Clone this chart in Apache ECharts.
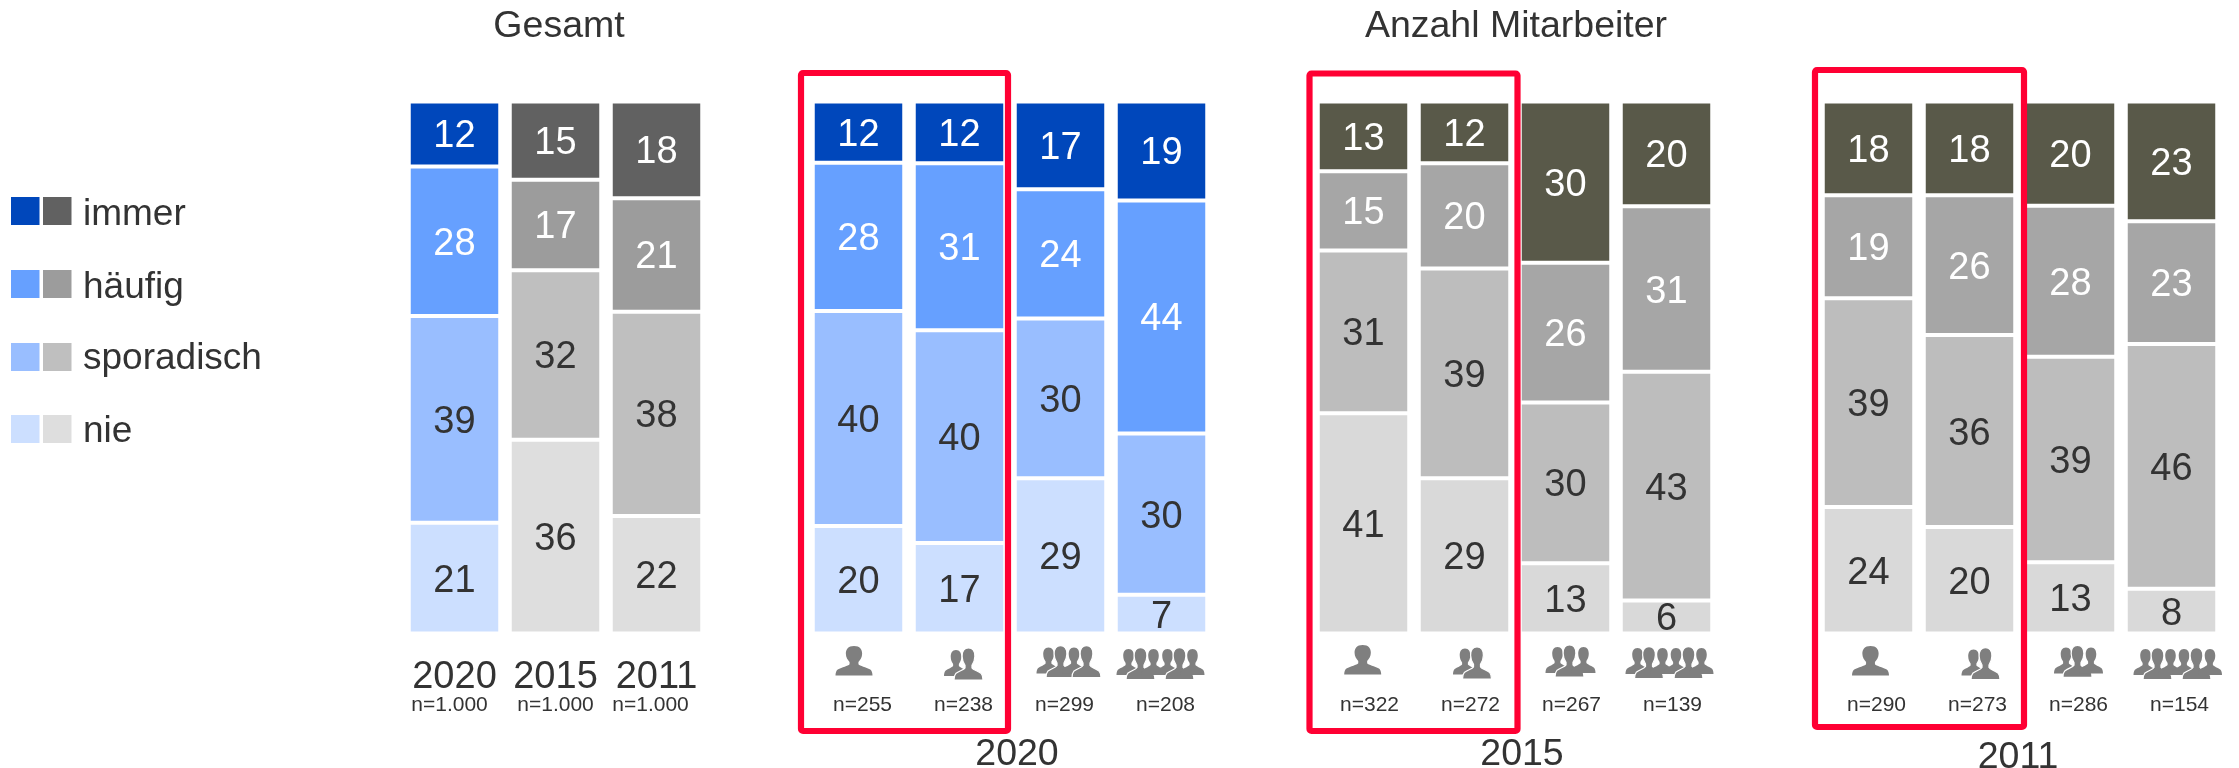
<!DOCTYPE html>
<html><head><meta charset="utf-8">
<style>html,body{margin:0;padding:0;background:#fff}#c{width:2239px;height:768px}</style>
<script src="https://cdn.jsdelivr.net/npm/echarts@6/dist/echarts.min.js"></script>
</head><body><div id="c"></div>
<script>
const seriesNames = ['immer','häufig','sporadisch','nie'];
const blueColors  = ['#0047BB','#66A0FF','#99BEFF','#CCDFFF'];
const grayColors  = ['#616161','#9C9C9C','#BFBFBF','#DEDEDE'];
const oliveColors = ['#595949','#A6A6A6','#BDBDBD','#D9D9D9'];

// Gesamt
const gesamtYears = ['2020','2015','2011'];
const gesamtN     = ['n=1.000','n=1.000','n=1.000'];
const gesamtImmer = [12.2,14.7,18.2];
const gesamtHaeufig = [28.1,17.0,21.3];
const gesamtSporadisch = [38.9,31.9,38.4];
const gesamtNie   = [20.8,36.4,22.1];

// 2020
const n2020 = ['n=255','n=238','n=299','n=208'];
const immer2020 = [11.5,11.6,16.5,18.6];
const haeufig2020 = [27.9,31.4,24.3,43.8];
const sporadisch2020 = [40.4,40.0,30.0,30.3];
const nie2020 = [20.2,17.0,29.2,7.3];

// 2015
const n2015 = ['n=322','n=272','n=267','n=139'];
const immer2015 = [13.1,11.6,30.3,19.7];
const haeufig2015 = [14.9,19.8,26.3,31.1];
const sporadisch2015 = [30.6,39.4,30.2,43.0];
const nie2015 = [41.4,29.2,13.2,6.2];

// 2011
const n2011 = ['n=290','n=273','n=286','n=154'];
const immer2011 = [17.6,17.6,19.6,22.5];
const haeufig2011 = [19.4,26.3,28.4,23.1];
const sporadisch2011 = [39.2,36.1,38.6,46.0];
const nie2011 = [23.8,20.0,13.4,8.4];

const FONT = '"Liberation Sans", Arial, sans-serif';
const TXT = '#333333';
const ICON = '#7F7F7F';
const RED = '#FF0033';

const groups = [
  {left:404,  cats:gesamtYears, colors:grayColors,  data:[gesamtImmer,gesamtHaeufig,gesamtSporadisch,gesamtNie]},
  {left:808,  cats:n2020, colors:blueColors,  data:[immer2020,haeufig2020,sporadisch2020,nie2020], nPad:8},
  {left:1313, cats:n2015, colors:oliveColors, data:[immer2015,haeufig2015,sporadisch2015,nie2015], nPad:12},
  {left:1818, cats:n2011, colors:oliveColors, data:[immer2011,haeufig2011,sporadisch2011,nie2011], nPad:16}
];

const grid=[],xAxis=[],yAxis=[],series=[];
groups.forEach((g,gi)=>{
  grid.push({left:g.left,top:101.5,width:101*g.cats.length,height:532});
  yAxis.push({gridIndex:gi,type:'value',min:0,max:100,show:false});
  const ax={gridIndex:gi,type:'category',data:g.cats,axisLine:{show:false},axisTick:{show:false},splitLine:{show:false}};
  if(gi===0){
    ax.axisLabel={interval:0,margin:29,fontFamily:FONT,color:TXT,
      formatter:(v,i)=>'{y|'+v+'}\n{n'+i+'|'+gesamtN[i]+'}',
      rich:{y:{fontSize:38,lineHeight:30,fontFamily:FONT,color:TXT},
            n0:{fontSize:21,lineHeight:26,fontFamily:FONT,color:TXT,padding:[0,10,0,0]},
            n1:{fontSize:21,lineHeight:26,fontFamily:FONT,color:TXT},
            n2:{fontSize:21,lineHeight:26,fontFamily:FONT,color:TXT,padding:[0,12,0,0]}}};
  } else {
    ax.axisLabel={interval:0,margin:60,fontSize:21,lineHeight:24,fontFamily:FONT,color:TXT,padding:[0,0,0,g.nPad]};
  }
  xAxis.push(ax);
  [3,2,1,0].forEach(si=>{
    series.push({name:seriesNames[si],type:'bar',stack:'g'+gi,xAxisIndex:gi,yAxisIndex:gi,
      barWidth:91.5,data:g.data[si],
      itemStyle:{color:g.colors[si],borderColor:'#fff',borderWidth:2},
      label:{show:true,position:'inside',offset:[0,3],fontFamily:FONT,fontSize:38,color:si<2?'#fff':TXT,
        formatter:p=>String(Math.round(p.value))},
      emphasis:{disabled:true},silent:true,animation:false});
  });
});
// first Gesamt column uses the blue palette
[3,2,1,0].forEach((si,k)=>{
  const s=series[k];
  s.data=s.data.map((v,i)=>i===0?{value:v,itemStyle:{color:blueColors[si]}}:v);
});

const titleStyle={fontFamily:FONT,fontSize:37.5,fontWeight:'normal',color:TXT};
const title=[
  {text:'Gesamt',left:554,top:2.5,textAlign:'center',textStyle:titleStyle},
  {text:'Anzahl Mitarbeiter',left:1511,top:2.5,textAlign:'center',textStyle:titleStyle},
  {text:'2020',left:1012,top:731,textAlign:'center',textStyle:titleStyle},
  {text:'2015',left:1517,top:731,textAlign:'center',textStyle:titleStyle},
  {text:'2011',left:2013,top:734,textAlign:'center',textStyle:titleStyle}
];

// silhouette shape for the staff-size pictograms
echarts.graphic.registerShape('person',echarts.graphic.extendShape({
  shape:{cx:0,top:0,w:10,h:10},
  buildPath(ctx,s){
    const X=v=>s.cx-s.w/2+v*s.w/100, Y=v=>s.top+v*s.h/100;
    ctx.moveTo(X(50),Y(0));
    ctx.bezierCurveTo(X(34),Y(0),X(28),Y(12),X(28),Y(26));
    ctx.bezierCurveTo(X(28),Y(38),X(33),Y(47),X(38),Y(54));
    ctx.lineTo(X(38),Y(62));
    ctx.bezierCurveTo(X(34),Y(68),X(18),Y(72),X(6),Y(80));
    ctx.bezierCurveTo(X(2),Y(84),X(0),Y(92),X(0),Y(100));
    ctx.lineTo(X(100),Y(100));
    ctx.bezierCurveTo(X(100),Y(92),X(98),Y(84),X(94),Y(80));
    ctx.bezierCurveTo(X(82),Y(72),X(66),Y(68),X(62),Y(62));
    ctx.lineTo(X(62),Y(54));
    ctx.bezierCurveTo(X(67),Y(47),X(72),Y(38),X(72),Y(26));
    ctx.bezierCurveTo(X(72),Y(12),X(66),Y(0),X(50),Y(0));
    ctx.closePath();
  }
}));
function person(cx,top,w,h,isFront){
  return {type:'person',silent:true,shape:{cx,top,w,h},
    style:isFront?{fill:ICON,stroke:'#fff',lineWidth:1.2}:{fill:ICON}};
}
function back(cx,top){return person(cx,top,24,26,false);}
function front(cx,top){return person(cx,top,29,32,true);}
const graphicEls=[];
graphicEls.push(person(854,646,37,29.5,false));
graphicEls.push(back(956,650),front(968.5,648));
graphicEls.push(back(1048.5,647.5),front(1060.5,645.7),back(1074,647.5),front(1086.5,645.7));
graphicEls.push(back(1128.5,649),front(1140.5,647.7),back(1153.5,649),back(1167.5,649),front(1179.5,647.7),back(1192.5,649));

graphicEls.push(person(1362.7,645,37,29.5,false));
graphicEls.push(back(1465,648.5),front(1477,647));
graphicEls.push(back(1557.5,647),front(1569.5,645),back(1583.5,647));
graphicEls.push(back(1637.5,648),front(1649,646.7),back(1662.5,648),back(1676,648),front(1688.5,646.7),back(1701.5,648));

graphicEls.push(person(1870.5,646,37,29.5,false));
graphicEls.push(back(1973.5,649.5),front(1985.5,647.7));
graphicEls.push(back(2066,647.5),front(2077.5,645.3),back(2091,647.5));
graphicEls.push(back(2145.5,649),front(2157.5,647.7),back(2170.5,649),back(2184,649),front(2196.5,647.7),back(2210,649));

// red frames
[[801,73,207,658],[1309.5,73.5,208,657.5],[1815,70,209,657]].forEach(r=>{
  graphicEls.push({type:'rect',silent:true,z:50,shape:{x:r[0],y:r[1],width:r[2],height:r[3],r:2},
    style:{fill:'transparent',stroke:RED,lineWidth:6.2}});
});

// legend
const legendY=[197,270,343,415];
const legendTextY=[214.5,287.5,358.5,431.5];
seriesNames.forEach((nm,i)=>{
  graphicEls.push({type:'rect',silent:true,shape:{x:11,y:legendY[i],width:28.5,height:28},style:{fill:blueColors[i]}});
  graphicEls.push({type:'rect',silent:true,shape:{x:43,y:legendY[i],width:28.5,height:28},style:{fill:grayColors[i]}});
  graphicEls.push({type:'text',silent:true,style:{text:nm,x:83,y:legendTextY[i],fill:TXT,font:'37px '+FONT,align:'left',verticalAlign:'middle'}});
});

const chart=echarts.init(document.getElementById('c'),null,{renderer:'canvas'});
chart.setOption({animation:false,backgroundColor:'#fff',title,grid,xAxis,yAxis,series,tooltip:{show:false},legend:{show:false},
  graphic:{elements:graphicEls}});
</script></body></html>
